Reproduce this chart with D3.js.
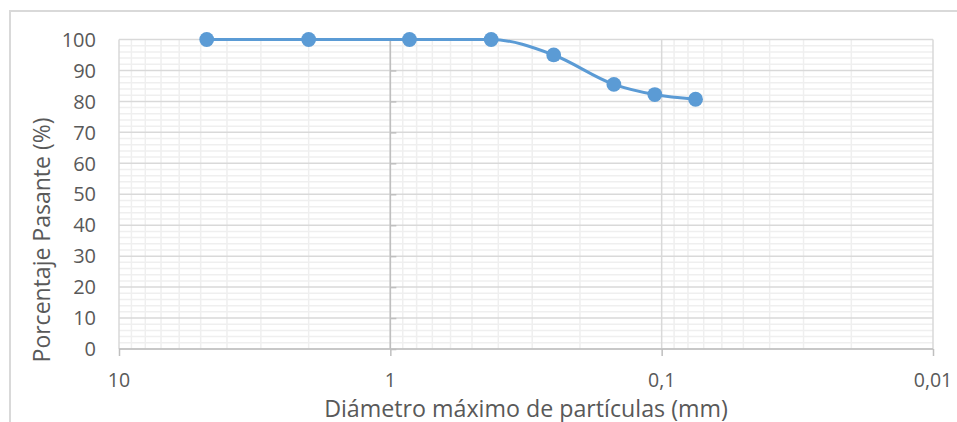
<!DOCTYPE html>
<html>
<head>
<meta charset="utf-8">
<script src="https://cdn.jsdelivr.net/npm/d3@7/dist/d3.min.js"></script>
<style>
  html, body { margin: 0; padding: 0; background: #fff; }
  svg { display: block; }
  text { font-family: "Open Sans", "Noto Sans", sans-serif; fill: #595959; }
</style>
</head>
<body>
<svg id="chart" width="957" height="422"></svg>
<script>
// Granulometric curve: sieve opening (mm) vs percent passing
const diameters = [4.75, 2.0, 0.85, 0.425, 0.25, 0.15, 0.106, 0.075];
const passing   = [100, 100, 100, 100, 95.0, 85.5, 82.2, 80.7];
const xTicks = [10, 1, 0.1, 0.01];
const xTickLabels = ["10", "1", "0,1", "0,01"];
const yTicks = [0, 10, 20, 30, 40, 50, 60, 70, 80, 90, 100];
const xTitle = "Diámetro máximo de partículas (mm)";
const yTitle = "Porcentaje Pasante (%)";

const svg = d3.select("#chart");
const W = 957, H = 422;
const plot = { left: 119, right: 933, top: 39.5, bottom: 349 };

// Chart-area frame
svg.append("rect")
  .attr("x", 10).attr("y", 11)
  .attr("width", W + 20).attr("height", H + 20)
  .attr("fill", "#fff").attr("stroke", "#d9d9d9").attr("stroke-width", 2);

// Reversed logarithmic x-axis (coarse on the left)
const x = d3.scaleLog().domain([10, 0.01]).range([plot.left, plot.right]);
const y = d3.scaleLinear().domain([0, 100]).range([plot.bottom, plot.top]);

const grid = svg.append("g");

// Minor vertical gridlines at 2..9 of each decade
const minorX = [];
[1, 0.1, 0.01].forEach(d => { for (let k = 2; k <= 9; k++) minorX.push(d * k); });
grid.selectAll("line.vminor").data(minorX).enter().append("line")
  .attr("x1", d => x(d)).attr("x2", d => x(d))
  .attr("y1", plot.top).attr("y2", plot.bottom)
  .attr("stroke", "#efefef").attr("stroke-width", 1.5);

// Minor horizontal gridlines every 2 %
const minorY = d3.range(0, 101, 2).filter(v => v % 10 !== 0);
grid.selectAll("line.hminor").data(minorY).enter().append("line")
  .attr("x1", plot.left).attr("x2", plot.right)
  .attr("y1", d => y(d)).attr("y2", d => y(d))
  .attr("stroke", "#efefef").attr("stroke-width", 1.5);

// Major horizontal gridlines
grid.selectAll("line.hmajor").data(yTicks).enter().append("line")
  .attr("x1", plot.left).attr("x2", plot.right)
  .attr("y1", d => y(d)).attr("y2", d => y(d))
  .attr("stroke", "#d9d9d9").attr("stroke-width", 1.5);

// Major vertical gridlines at decades
grid.selectAll("line.vmajor").data(xTicks).enter().append("line")
  .attr("x1", d => x(d)).attr("x2", d => x(d))
  .attr("y1", plot.top).attr("y2", plot.bottom)
  .attr("stroke", "#d9d9d9").attr("stroke-width", 1.5);

// Vertical axis line crossing at 1 mm, with outward ticks
const yAxis = d3.axisRight(y).tickValues(yTicks).tickSize(6).tickFormat("");
svg.append("g")
  .attr("transform", `translate(${x(1)},0)`)
  .call(yAxis)
  .call(g => g.select(".domain").attr("stroke", "#bfbfbf").attr("stroke-width", 1.5)
                .attr("d", `M0,${plot.top}V${plot.bottom}`))
  .call(g => g.selectAll(".tick line").attr("stroke", "#bfbfbf").attr("stroke-width", 1.5));

// Horizontal axis line with decade ticks
const xAxis = d3.axisBottom(x).tickValues(xTicks).tickSize(7).tickFormat("");
svg.append("g")
  .attr("transform", `translate(0,${plot.bottom})`)
  .call(xAxis)
  .call(g => g.select(".domain").attr("stroke", "#bfbfbf").attr("stroke-width", 1.5)
                .attr("d", `M${plot.left},0H${plot.right}`))
  .call(g => g.selectAll(".tick line").attr("stroke", "#bfbfbf").attr("stroke-width", 1.5));

// Tick labels
svg.append("g").selectAll("text").data(yTicks).enter().append("text")
  .attr("x", 96).attr("y", d => y(d))
  .attr("dy", "0.36em")
  .attr("text-anchor", "end")
  .style("font-size", "20px")
  .text(d => d);

svg.append("g").selectAll("text").data(xTicks).enter().append("text")
  .attr("x", d => x(d)).attr("y", 386.5)
  .attr("text-anchor", "middle")
  .style("font-size", "19.5px")
  .text((d, i) => xTickLabels[i]);

// Scale a title's font so that it spans the given length
function fitFont(sel, length) {
  const base = 20;
  sel.style("font-size", base + "px");
  const w = sel.node().getComputedTextLength();
  sel.style("font-size", (base * length / w).toFixed(2) + "px");
}

// Axis titles
const xt = svg.append("text")
  .attr("x", (plot.left + plot.right) / 2).attr("y", 416.5)
  .attr("text-anchor", "middle")
  .text(xTitle);
fitFont(xt, 404);

const yt = svg.append("text")
  .attr("transform", "translate(50,240) rotate(-90)")
  .attr("text-anchor", "middle")
  .text(yTitle);
fitFont(yt, 245);

// Smoothed series line and markers
const pts = diameters.map((d, i) => [d, passing[i]]);
const line = d3.line()
  .x(d => x(d[0])).y(d => y(d[1]))
  .curve(d3.curveMonotoneX);

svg.append("path")
  .datum(pts)
  .attr("d", line)
  .attr("fill", "none")
  .attr("stroke", "#5b9bd5")
  .attr("stroke-width", 3);

svg.append("g").selectAll("circle").data(pts).enter().append("circle")
  .attr("cx", d => x(d[0])).attr("cy", d => y(d[1]))
  .attr("r", 7.4)
  .attr("fill", "#5b9bd5");
</script>
</body>
</html>
